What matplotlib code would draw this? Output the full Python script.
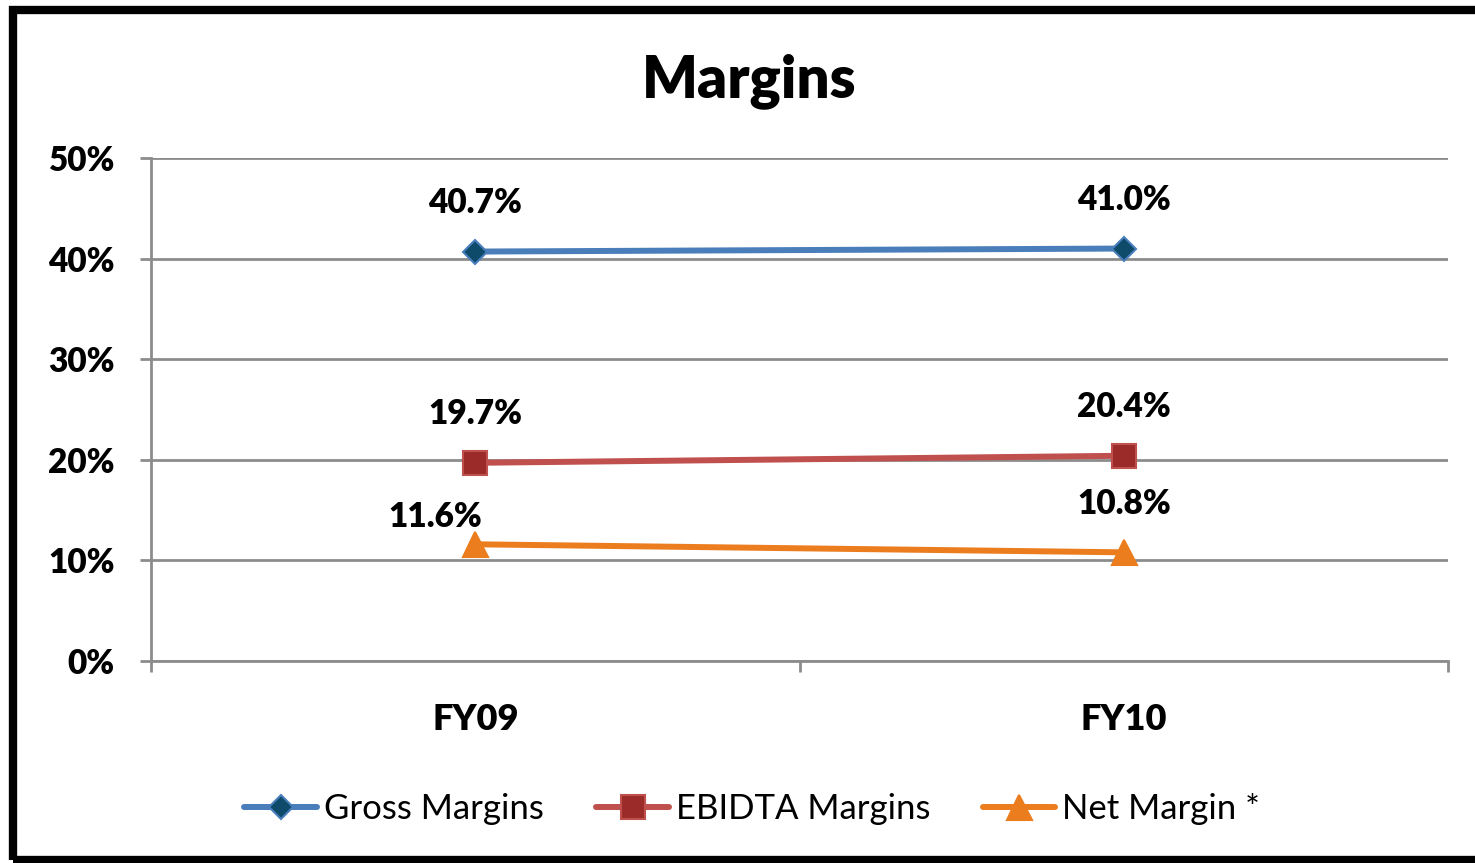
"""Margins line chart."""

import matplotlib
matplotlib.use("Agg")
import matplotlib.pyplot as plt
from matplotlib.patches import Rectangle
from matplotlib.ticker import FuncFormatter

plt.rcParams["font.family"] = ["Lato", "DejaVu Sans"]

# ── Data ────────────────────────────────────────────────────────────────
years = ["FY09", "FY10"]
gross = [40.7, 41.0]
ebidta = [19.7, 20.4]
net = [11.6, 10.8]

GRID = "#8c8c8c"
BOLD = "heavy"

fig = plt.figure(figsize=(14.75, 8.63), dpi=100)
ax = fig.add_axes([0.1024, 0.2341, 0.8793, 0.5828])

x = [i + 0.5 for i in range(len(years))]

series = [
    ("Gross Margins", gross, "#4a7ebb", "D", 12, "#0e4b6b", "#4a7ebb"),
    ("EBIDTA Margins", ebidta, "#c0504d", "s", 17, "#9b2b29", "#c0504d"),
    ("Net Margin *", net, "#eb7d1e", "^", 18, "#eb7d1e", "#eb7d1e"),
]
for label, vals, color, mk, ms, mfc, mec in series:
    ax.plot(x, vals, color=color, linewidth=4.3, marker=mk, markersize=ms,
            markerfacecolor=mfc, markeredgecolor=mec, markeredgewidth=1.5,
            label=label, zorder=3, solid_capstyle="round")

# Подписи значений
for xi, v in zip(x, gross):
    ax.annotate(f"{v:.1f}%", (xi, v), xytext=(0, 35), textcoords="offset points",
                ha="center", va="center", fontsize=24, fontweight=BOLD)
for xi, v in zip(x, ebidta):
    ax.annotate(f"{v:.1f}%", (xi, v), xytext=(0, 35), textcoords="offset points",
                ha="center", va="center", fontsize=24, fontweight=BOLD)
net_dx = [-29, 0]
net_dy = [20, 35]
for xi, v, dx, dy in zip(x, net, net_dx, net_dy):
    ax.annotate(f"{v:.1f}%", (xi, v), xytext=(dx, dy), textcoords="offset points",
                ha="center", va="center", fontsize=24, fontweight=BOLD)

ax.set_xlim(0, 2)
ax.set_ylim(0, 50)
ax.set_yticks(range(0, 51, 10))
ax.yaxis.set_major_formatter(FuncFormatter(lambda v, _: f"{v:.0f}%"))
ax.set_xticks([0, 1, 2])
ax.set_xticklabels([])
ax.set_xticks(x, minor=True)
ax.set_xticklabels(years, minor=True)
ax.tick_params(axis="x", which="minor", length=0, pad=30, labelsize=26)
ax.tick_params(axis="x", which="major", length=8, width=2, color=GRID, direction="out")
ax.tick_params(axis="y", length=8, width=2, color=GRID, pad=18, labelsize=24)
for lbl in ax.get_yticklabels() + ax.get_xticklabels(minor=True):
    lbl.set_fontweight(BOLD)

ax.grid(axis="y", color=GRID, linewidth=2, zorder=0)
ax.set_axisbelow(True)
for side in ["top", "right"]:
    ax.spines[side].set_visible(False)
for side in ["left", "bottom"]:
    ax.spines[side].set_color(GRID)
    ax.spines[side].set_linewidth(2)

fig.text(0.508, 0.906, "Margins", ha="center", va="center",
         fontsize=42, fontweight=BOLD)

fig.legend(loc="center", bbox_to_anchor=(0.51, 0.062), ncol=3, frameon=False,
           fontsize=25, handlelength=2.1, columnspacing=1.5, handletextpad=0.2)

# Рамка вокруг всей картинки
fig.patches.append(Rectangle((0.0085, 0.004), 1.1, 0.984, transform=fig.transFigure,
                             fill=False, edgecolor="black", linewidth=6))

fig.savefig("out.png", dpi=100, facecolor="white")
